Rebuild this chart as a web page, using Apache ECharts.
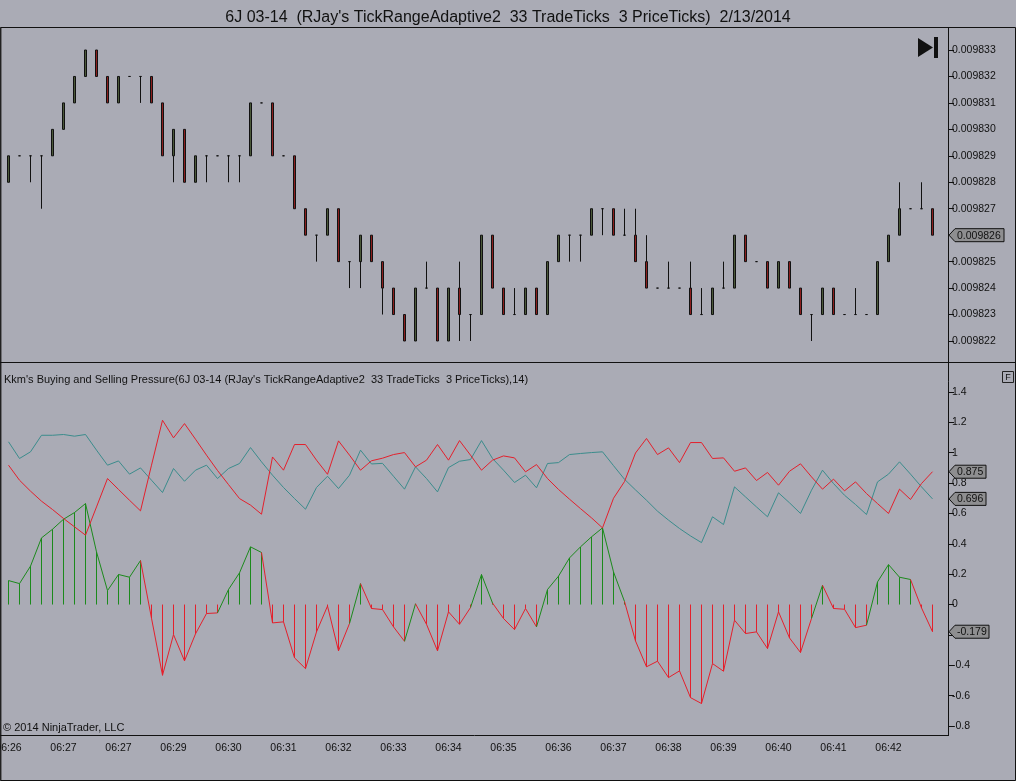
<!DOCTYPE html>
<html>
<head>
<meta charset="utf-8">
<title>6J 03-14 Buying and Selling Pressure</title>
<script src="https://cdn.jsdelivr.net/npm/echarts@6/dist/echarts.min.js"></script>
<style>
  html, body { margin: 0; padding: 0; background: #aaabb5; }
  #main { width: 1016px; height: 781px; }
</style>
</head>
<body>
<div id="main"></div>
<script>
// time labels, one every 5 bars
const tickLabels = ['06:26', '06:27', '06:27', '06:29', '06:30', '06:31', '06:32', '06:33', '06:34',
    '06:35', '06:36', '06:37', '06:38', '06:39', '06:40', '06:41', '06:42']

// price bars (85 of them)
const openPx = [
    0.009828, 0.009829, 0.009829, 0.009829, 0.009829, 0.009830, 0.009831, 0.009832, 0.009833, 0.009832,
    0.009831, 0.009832, 0.009832, 0.009832, 0.009831, 0.009829, 0.009830, 0.009828, 0.009829, 0.009829,
    0.009829, 0.009829, 0.009829, 0.009831, 0.009831, 0.009829, 0.009829, 0.009827, 0.009826, 0.009826,
    0.009827, 0.009825, 0.009825, 0.009826, 0.009825, 0.009824, 0.009823, 0.009822, 0.009824, 0.009824,
    0.009822, 0.009824, 0.009823, 0.009823, 0.009826, 0.009824, 0.009823, 0.009823, 0.009824, 0.009823,
    0.009825, 0.009826, 0.009826, 0.009826, 0.009827, 0.009827, 0.009826, 0.009826, 0.009825, 0.009824,
    0.009824, 0.009824, 0.009824, 0.009823, 0.009823, 0.009824, 0.009824, 0.009826, 0.009825, 0.009825,
    0.009824, 0.009825, 0.009824, 0.009823, 0.009823, 0.009824, 0.009823, 0.009823, 0.009823, 0.009823,
    0.009825, 0.009826, 0.009827, 0.009827, 0.009827]
const highPx = [
    0.009829, 0.009829, 0.009829, 0.009829, 0.009830, 0.009831, 0.009832, 0.009833, 0.009833, 0.009832,
    0.009832, 0.009832, 0.009832, 0.009832, 0.009831, 0.009830, 0.009830, 0.009829, 0.009829, 0.009829,
    0.009829, 0.009829, 0.009831, 0.009831, 0.009831, 0.009829, 0.009829, 0.009827, 0.009826, 0.009827,
    0.009827, 0.009825, 0.009826, 0.009826, 0.009825, 0.009824, 0.009823, 0.009824, 0.009825, 0.009824,
    0.009824, 0.009825, 0.009823, 0.009826, 0.009826, 0.009824, 0.009824, 0.009824, 0.009824, 0.009825,
    0.009826, 0.009826, 0.009826, 0.009827, 0.009827, 0.009827, 0.009827, 0.009827, 0.009826, 0.009824,
    0.009825, 0.009824, 0.009825, 0.009824, 0.009824, 0.009825, 0.009826, 0.009826, 0.009825, 0.009825,
    0.009825, 0.009825, 0.009824, 0.009823, 0.009824, 0.009824, 0.009823, 0.009824, 0.009823, 0.009825,
    0.009826, 0.009828, 0.009827, 0.009828, 0.009827]
const lowPx = [
    0.009828, 0.009829, 0.009828, 0.009827, 0.009829, 0.009830, 0.009831, 0.009832, 0.009832, 0.009831,
    0.009831, 0.009832, 0.009831, 0.009831, 0.009829, 0.009828, 0.009828, 0.009828, 0.009828, 0.009829,
    0.009828, 0.009828, 0.009829, 0.009831, 0.009829, 0.009829, 0.009827, 0.009826, 0.009825, 0.009826,
    0.009825, 0.009824, 0.009824, 0.009825, 0.009823, 0.009823, 0.009822, 0.009822, 0.009824, 0.009822,
    0.009822, 0.009822, 0.009822, 0.009823, 0.009824, 0.009823, 0.009823, 0.009823, 0.009823, 0.009823,
    0.009825, 0.009825, 0.009825, 0.009826, 0.009826, 0.009826, 0.009826, 0.009825, 0.009824, 0.009824,
    0.009824, 0.009824, 0.009823, 0.009823, 0.009823, 0.009824, 0.009824, 0.009825, 0.009825, 0.009824,
    0.009824, 0.009824, 0.009823, 0.009822, 0.009823, 0.009823, 0.009823, 0.009823, 0.009823, 0.009823,
    0.009825, 0.009826, 0.009827, 0.009827, 0.009826]
const closePx = [
    0.009829, 0.009829, 0.009829, 0.009829, 0.009830, 0.009831, 0.009832, 0.009833, 0.009832, 0.009831,
    0.009832, 0.009832, 0.009832, 0.009831, 0.009829, 0.009830, 0.009828, 0.009829, 0.009829, 0.009829,
    0.009829, 0.009829, 0.009831, 0.009831, 0.009829, 0.009829, 0.009827, 0.009826, 0.009826, 0.009827,
    0.009825, 0.009825, 0.009826, 0.009825, 0.009824, 0.009823, 0.009822, 0.009824, 0.009824, 0.009822,
    0.009824, 0.009823, 0.009823, 0.009826, 0.009824, 0.009823, 0.009823, 0.009824, 0.009823, 0.009825,
    0.009826, 0.009826, 0.009826, 0.009827, 0.009827, 0.009826, 0.009826, 0.009825, 0.009824, 0.009824,
    0.009824, 0.009824, 0.009823, 0.009823, 0.009824, 0.009824, 0.009826, 0.009825, 0.009825, 0.009824,
    0.009825, 0.009824, 0.009823, 0.009823, 0.009824, 0.009823, 0.009823, 0.009823, 0.009823, 0.009825,
    0.009826, 0.009827, 0.009827, 0.009827, 0.009826]

// Kkm's buying and selling pressure plots
const redPlot = [
    0.918, 0.819, 0.747, 0.681, 0.626, 0.567, 0.512, 0.457, 0.643, 0.830,
    0.758, 0.687, 0.617, 0.918, 1.214, 1.098, 1.192, 1.089, 0.984, 0.883,
    0.790, 0.698, 0.655, 0.595, 0.972, 0.885, 1.054, 1.054, 0.951, 0.858,
    1.078, 0.984, 0.885, 0.947, 0.964, 0.988, 1.001, 0.907, 0.951, 1.054,
    0.951, 1.080, 0.984, 0.885, 0.951, 0.979, 0.966, 0.874, 0.922, 0.830,
    0.758, 0.694, 0.632, 0.571, 0.505, 0.700, 0.810, 0.998, 1.094, 0.988,
    1.032, 0.935, 1.067, 1.067, 0.962, 0.966, 0.878, 0.900, 0.817, 0.870,
    0.786, 0.878, 0.927, 0.841, 0.760, 0.826, 0.749, 0.808, 0.731, 0.665,
    0.600, 0.760, 0.692, 0.797, 0.875]
const tealPlot = [
    1.072, 0.962, 1.006, 1.115, 1.115, 1.120, 1.109, 1.120, 1.017, 0.918,
    0.946, 0.859, 0.900, 0.819, 0.738, 0.896, 0.812, 0.885, 0.918, 0.830,
    0.896, 0.929, 1.034, 0.940, 0.852, 0.771, 0.698, 0.628, 0.771, 0.845,
    0.764, 0.852, 1.017, 0.926, 0.930, 0.845, 0.760, 0.907, 0.830, 0.742,
    0.902, 0.944, 0.955, 1.080, 0.962, 0.885, 0.804, 0.852, 0.769, 0.929,
    0.935, 0.988, 0.995, 1.001, 1.006, 0.915, 0.825, 0.755, 0.687, 0.615,
    0.556, 0.501, 0.452, 0.408, 0.578, 0.527, 0.775, 0.709, 0.643, 0.578,
    0.736, 0.670, 0.600, 0.753, 0.885, 0.797, 0.720, 0.659, 0.593, 0.808,
    0.859, 0.940, 0.859, 0.775, 0.696]
const histPlot = [
    0.158, 0.138, 0.253, 0.439, 0.496, 0.562, 0.606, 0.665, 0.347, 0.092,
    0.198, 0.180, 0.290, -0.090, -0.466, -0.198, -0.371, -0.193, -0.059, -0.055,
    0.099, 0.209, 0.380, 0.343, -0.121, -0.114, -0.351, -0.422, -0.180, -0.010,
    -0.305, -0.125, 0.138, -0.026, -0.033, -0.147, -0.242, 0.005, -0.130, -0.305,
    -0.048, -0.130, -0.020, 0.198, 0.010, -0.092, -0.165, -0.026, -0.147, 0.099,
    0.187, 0.307, 0.380, 0.446, 0.505, 0.215, 0.020, -0.240, -0.410, -0.373,
    -0.481, -0.437, -0.613, -0.652, -0.389, -0.439, -0.103, -0.191, -0.180, -0.290,
    -0.048, -0.220, -0.316, -0.092, 0.127, -0.026, -0.031, -0.152, -0.136, 0.149,
    0.263, 0.180, 0.165, -0.022, -0.179]

const bg = '#aaabb5'
const ink = '#111111'
const red = '#e4202c'
const teal = '#3b8c8c'
const green = '#1c8a1c'
const font = '"Liberation Sans", Arial, sans-serif'

// one empty slot after the last bar, like the platform leaves
let cats = []
for (let i = 0; i <= closePx.length; i++) {
    cats.push(String(i))
}
let candles = []
for (let i = 0; i < closePx.length; i++) {
    candles.push([openPx[i], closePx[i], lowPx[i], highPx[i]])
}

let timeLabel = (val, idx) => (idx % 5 === 0 && tickLabels[idx / 5]) ? tickLabels[idx / 5] : ''

var myChart = echarts.init(document.getElementById('main'))

let option = {
    backgroundColor: bg,
    animation: false,
    title: {
        text: "6J 03-14  (RJay's TickRangeAdaptive2  33 TradeTicks  3 PriceTicks)  2/13/2014",
        left: 'center',
        top: 5,
        textStyle: { fontSize: 16, fontWeight: 'normal', fontFamily: font, color: ink }
    },
    grid: [
        { left: 3, width: 946, top: 50, height: 291, outerBoundsMode: 'none', containLabel: false },
        { left: 3, width: 946, top: 392, height: 334, outerBoundsMode: 'none', containLabel: false }
    ],
    xAxis: [
        {
            type: 'category', gridIndex: 0, data: cats, show: false
        },
        {
            type: 'category', gridIndex: 1, data: cats, offset: 10,
            axisLine: { show: false },
            axisTick: {
                alignWithLabel: true, length: 5,
                interval: (idx) => idx % 5 === 0 && idx < closePx.length,
                lineStyle: { color: ink }
            },
            axisLabel: {
                interval: 4, formatter: timeLabel, margin: 7,
                fontSize: 10.5, fontFamily: font, color: ink
            }
        }
    ],
    yAxis: [
        {
            type: 'value', gridIndex: 0, position: 'right',
            min: 0.009822, max: 0.009833, interval: 0.000001,
            splitLine: { show: false },
            axisLine: { show: false },
            axisTick: { show: true, length: 5, lineStyle: { color: ink } },
            axisLabel: {
                margin: 3, fontSize: 10.5, fontFamily: font, color: ink,
                formatter: (v) => v.toFixed(6)
            }
        },
        {
            type: 'value', gridIndex: 1, position: 'right',
            min: -0.8, max: 1.4, interval: 0.2,
            splitLine: { show: false },
            axisLine: { show: false },
            axisTick: { show: true, length: 5, lineStyle: { color: ink } },
            axisLabel: { margin: 3, fontSize: 10.5, fontFamily: font, color: ink }
        }
    ],
    series: [
        {
            type: 'candlestick',
            xAxisIndex: 0, yAxisIndex: 0,
            barWidth: 3,
            data: candles,
            itemStyle: {
                color: '#4a5839',
                color0: '#8c1e1e',
                borderColor: ink,
                borderColor0: ink,
                borderColorDoji: ink,
                borderWidth: 1
            }
        },
        {
            type: 'line',
            xAxisIndex: 1, yAxisIndex: 1,
            data: tealPlot,
            symbol: 'none',
            lineStyle: { color: teal, width: 1 }
        },
        {
            type: 'line',
            xAxisIndex: 1, yAxisIndex: 1,
            data: redPlot,
            symbol: 'none',
            lineStyle: { color: red, width: 1 }
        },
        {
            // stems from zero plus the joining line, coloured by sign of the bar
            type: 'custom',
            xAxisIndex: 1, yAxisIndex: 1,
            data: histPlot.map((v, i) => [i, v]),
            renderItem: function (params, api) {
                let i = params.dataIndex
                let v = api.value(1)
                let col = v >= 0 ? green : red
                let base = api.coord([i, 0])
                let top = api.coord([i, v])
                let kids = [{
                    type: 'line',
                    shape: { x1: top[0], y1: base[1], x2: top[0], y2: top[1] },
                    style: { stroke: col, lineWidth: 1 }
                }]
                if (i > 0) {
                    let prev = api.coord([i - 1, histPlot[i - 1]])
                    kids.push({
                        type: 'line',
                        shape: { x1: prev[0], y1: prev[1], x2: top[0], y2: top[1] },
                        style: { stroke: col, lineWidth: 1 }
                    })
                }
                return { type: 'group', children: kids }
            }
        }
    ]
}
myChart.setOption(option)

// value tags on the right axis
function tag(axisIdx, value, text, w) {
    let y = myChart.convertToPixel({ yAxisIndex: axisIdx }, value)
    let x = 949
    return {
        type: 'group',
        z: 100,
        children: [
            {
                type: 'polygon', z: 100,
                shape: { points: [[x, y], [x + 6, y - 6.5], [x + w, y - 6.5], [x + w, y + 6.5], [x + 6, y + 6.5]] },
                style: { fill: '#8e8e90', stroke: ink, lineWidth: 1 }
            },
            {
                type: 'text', z: 101,
                style: { text: text, x: x + 8, y: y + 0.5, fill: ink, font: '10.5px ' + font, verticalAlign: 'middle' }
            }
        ]
    }
}

let last = closePx.length - 1
let graphics = [
    // frame
    { type: 'rect', shape: { x: 0.5, y: 27.5, width: 1015, height: 753 }, style: { fill: null, stroke: ink, lineWidth: 1 } },
    { type: 'line', shape: { x1: 1, y1: 28, x2: 1, y2: 780 }, style: { stroke: '#333', lineWidth: 1 } },
    { type: 'line', shape: { x1: 0, y1: 362.5, x2: 1016, y2: 362.5 }, style: { stroke: ink, lineWidth: 1 } },
    { type: 'line', shape: { x1: 948.5, y1: 27.5, x2: 948.5, y2: 736 }, style: { stroke: ink, lineWidth: 1 } },
    { type: 'line', shape: { x1: 0, y1: 735.5, x2: 949, y2: 735.5 }, style: { stroke: ink, lineWidth: 1 } },
    // go-to-end button
    { type: 'polygon', shape: { points: [[918, 38], [918, 57], [933, 47.5]] }, style: { fill: ink } },
    { type: 'rect', shape: { x: 934, y: 37, width: 4, height: 21 }, style: { fill: ink } },
    // F box
    { type: 'rect', shape: { x: 1002.5, y: 371.5, width: 11, height: 11 }, style: { fill: null, stroke: '#222', lineWidth: 1 } },
    { type: 'text', style: { text: 'F', x: 1008, y: 377.5, fill: ink, font: '9px ' + font, align: 'center', verticalAlign: 'middle' } },
    // texts
    {
        type: 'text',
        style: {
            text: "Kkm's Buying and Selling Pressure(6J 03-14 (RJay's TickRangeAdaptive2  33 TradeTicks  3 PriceTicks),14)",
            x: 4, y: 380, fill: ink, font: '11px ' + font, verticalAlign: 'middle'
        }
    },
    {
        type: 'text',
        style: { text: '\u00a9 2014 NinjaTrader, LLC', x: 3, y: 728, fill: ink, font: '11px ' + font, verticalAlign: 'middle' }
    },
    tag(0, closePx[last], closePx[last].toFixed(6), 55),
    tag(1, redPlot[last], redPlot[last].toFixed(3), 37),
    tag(1, tealPlot[last], tealPlot[last].toFixed(3), 37),
    tag(1, histPlot[last], histPlot[last].toFixed(3), 40)
]
myChart.setOption({ graphic: graphics })
</script>
</body>
</html>
